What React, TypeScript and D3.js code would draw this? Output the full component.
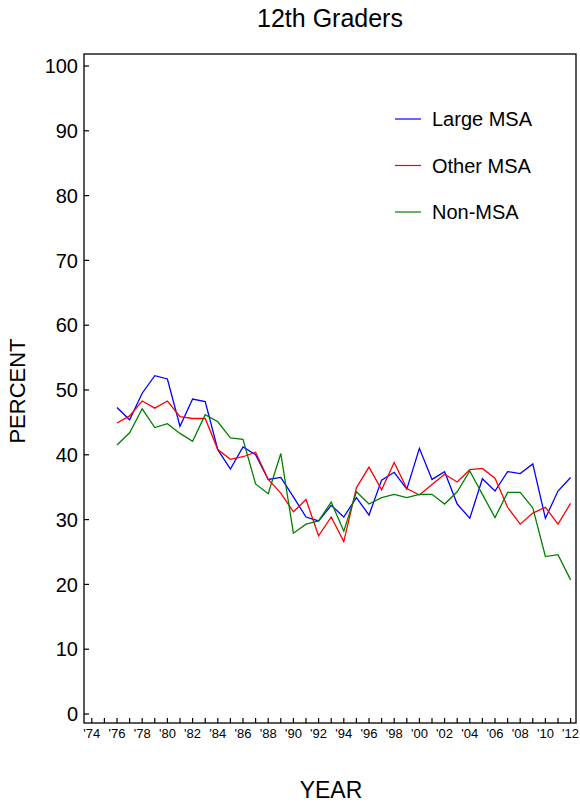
import { line, scaleLinear, range } from "d3";

const years = range(1976, 2013);

const largeMSA = [
  47.3, 45.4, 49.5, 52.2, 51.7, 44.4, 48.6, 48.2, 40.8, 37.8, 41.2, 40.0, 36.2,
  36.5, 33.5, 30.4, 29.8, 32.2, 30.4, 33.4, 30.7, 36.1, 37.3, 34.7, 41.0, 36.2,
  37.4, 32.4, 30.2, 36.3, 34.4, 37.4, 37.1, 38.6, 30.2, 34.4, 36.5,
];
const otherMSA = [
  44.9, 46.0, 48.3, 47.2, 48.3, 45.9, 45.6, 45.6, 40.8, 39.3, 39.7, 40.4, 36.2,
  34.1, 31.2, 33.1, 27.5, 30.4, 26.6, 34.9, 38.1, 34.6, 38.8, 34.8, 33.8, 35.4,
  37.0, 35.8, 37.7, 37.9, 36.4, 31.9, 29.3, 31.0, 31.9, 29.3, 32.5,
];
const nonMSA = [
  41.5, 43.4, 47.1, 44.2, 44.8, 43.3, 42.1, 46.2, 45.1, 42.6, 42.4, 35.5, 34.0,
  40.2, 27.9, 29.3, 29.8, 32.7, 28.2, 34.3, 32.4, 33.4, 33.9, 33.4, 33.9, 33.9,
  32.4, 34.3, 37.5, 33.9, 30.3, 34.2, 34.2, 31.8, 24.3, 24.6, 20.7,
];

const series = [
  { name: "Large MSA", color: "#0000ff", values: largeMSA },
  { name: "Other MSA", color: "#ff0000", values: otherMSA },
  { name: "Non-MSA", color: "#008000", values: nonMSA },
];

const yTicks = range(0, 101, 10);
const xTicks = range(1974, 2013);
const xLabels = range(1974, 2013, 2);

const font = "'Liberation Sans', Arial, sans-serif";

export default function App() {
  const width = 580;
  const height = 804;
  const left = 84;
  const right = 576;
  const top = 54;
  const bottom = 723;

  const x = scaleLinear().domain([1974, 2012]).range([91.8, 570.6]);
  const y = scaleLinear().domain([0, 100]).range([714, 66]);

  const path = line<number>()
    .x((_, i) => x(years[i]))
    .y((d) => y(d));

  return (
    <svg
      width={width}
      height={height}
      style={{ position: "absolute", left: 0, top: 0, background: "#fff" }}
      fontFamily={font}
    >
      <text x={330} y={27} textAnchor="middle" fontSize={25}>
        12th Graders
      </text>
      <rect
        x={left}
        y={top}
        width={right - left}
        height={bottom - top}
        fill="none"
        stroke="#000"
        strokeWidth={1.3}
      />
      {yTicks.map((t) => (
        <g key={t}>
          <line x1={left} x2={left + 5} y1={y(t)} y2={y(t)} stroke="#000" strokeWidth={1.2} />
          <text x={left - 6} y={y(t)} dy="0.36em" textAnchor="end" fontSize={20}>
            {t}
          </text>
        </g>
      ))}
      {xTicks.map((t) => (
        <line key={t} x1={x(t)} x2={x(t)} y1={bottom} y2={bottom - 5} stroke="#000" strokeWidth={1.2} />
      ))}
      {xLabels.map((t) => (
        <text key={t} x={x(t)} y={738} textAnchor="middle" fontSize={13}>
          {"'" + String(t).slice(2)}
        </text>
      ))}
      {series.map((s) => (
        <path key={s.name} d={path(s.values) ?? ""} fill="none" stroke={s.color} strokeWidth={1.3} />
      ))}
      {series.map((s, i) => (
        <g key={s.name} transform={`translate(0, ${119 + i * 46.5})`}>
          <line x1={395} x2={421} y1={0} y2={0} stroke={s.color} strokeWidth={1.2} />
          <text x={432} y={0} dy="0.36em" fontSize={20}>
            {s.name}
          </text>
        </g>
      ))}
      <text
        transform={`translate(25, 391) rotate(-90)`}
        textAnchor="middle"
        fontSize={22}
      >
        PERCENT
      </text>
      <text x={331} y={798} textAnchor="middle" fontSize={23}>
        YEAR
      </text>
    </svg>
  );
}
